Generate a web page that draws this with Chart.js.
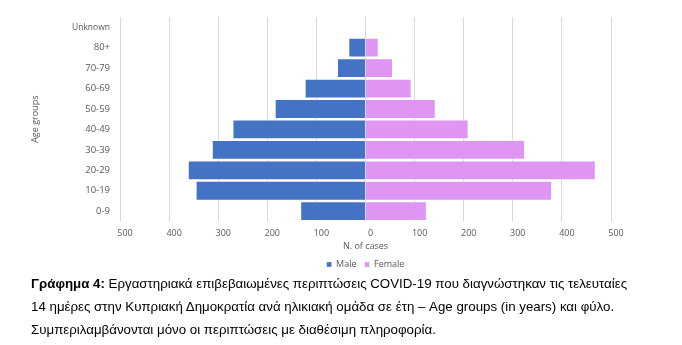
<!DOCTYPE html>
<html>
<head>
<meta charset="utf-8">
<script src="https://cdn.jsdelivr.net/npm/chart.js@4"></script>
<style>
  body { margin: 0; background: #fff; width: 682px; height: 345px; overflow: hidden; position: relative; }
  .chart-container { position: absolute; left: 0; top: 0; width: 682px; height: 279px; }
  .caption {
    position: absolute; left: 31px; top: 272px;
    font-family: "Liberation Sans", Arial, sans-serif; font-size: 13.3px;
    line-height: 23px; color: #000; white-space: nowrap;
  }
  .caption b { font-weight: bold; }
</style>
</head>
<body>
<div class="chart-container">
  <canvas id="pyramid"></canvas>
</div>
<div class="caption">
  <b>Γράφημα 4:</b> Εργαστηριακά επιβεβαιωμένες περιπτώσεις COVID-19 που διαγνώστηκαν τις τελευταίες<br>
  14 ημέρες στην Κυπριακή Δημοκρατία ανά ηλικιακή ομάδα σε έτη – Age groups (in years) και φύλο.<br>
  Συμπεριλαμβάνονται μόνο οι περιπτώσεις με διαθέσιμη πληροφορία.
</div>
<script>
const ageGroups = ['Unknown', '80+', '70-79', '60-69', '50-59', '40-49', '30-39', '20-29', '10-19', '0-9'];
const maleCases = [0, 35, 58, 124, 185, 271, 313, 362, 346, 133];
const femaleCases = [0, 27, 56, 94, 143, 210, 325, 469, 380, 125];
const xTicks = [-500, -400, -300, -200, -100, 0, 100, 200, 300, 400, 500];

const tickColor = '#595959';
const font = 'Open Sans';

// center the legend under the plot area instead of the padded canvas
const centerLegend = {
    id: 'centerLegend',
    afterLayout: chart => {
        const legend = chart.legend;
        const area = chart.chartArea;
        const shift = (area.left + area.right) / 2 - (legend.left + legend.right) / 2;
        legend.left += shift;
        legend.right += shift;
    }
};

const ctx = document.getElementById('pyramid');
new Chart(ctx, {
    type: 'bar',
    data: {
        labels: ageGroups,
        datasets: [
            {
                label: 'Male',
                data: maleCases.map(v => -v),
                backgroundColor: '#4472C4',
                borderColor: 'rgba(255,255,255,0.35)',
                borderWidth: 1
            },
            {
                label: 'Female',
                data: femaleCases,
                backgroundColor: '#DF95F2',
                borderColor: 'rgba(255,255,255,0.35)',
                borderWidth: 1
            }
        ]
    },
    plugins: [centerLegend],
    options: {
        indexAxis: 'y',
        animation: false,
        responsive: true,
        maintainAspectRatio: false,
        layout: { padding: { top: 17, right: 71, left: 0, bottom: 0 } },
        datasets: { bar: { categoryPercentage: 1, barPercentage: 0.97 } },
        scales: {
            x: {
                stacked: true,
                min: xTicks[0],
                max: xTicks[xTicks.length - 1],
                afterBuildTicks: axis => { axis.ticks = xTicks.map(v => ({ value: v })); },
                grid: { color: '#D9D9D9', drawTicks: false },
                border: { display: false },
                ticks: {
                    color: tickColor,
                    font: { family: font, size: 9 },
                    padding: 7,
                    labelOffset: 5,
                    maxRotation: 0,
                    callback: v => Math.abs(v)
                },
                title: {
                    display: true,
                    text: 'N. of cases',
                    color: tickColor,
                    font: { family: font, size: 9 },
                    padding: { top: -5, bottom: 0 }
                }
            },
            y: {
                stacked: true,
                grid: { display: false, drawTicks: false },
                border: { display: false },
                afterFit: scale => { scale.width = 120; },
                ticks: {
                    color: tickColor,
                    font: c => ({ family: font, size: c.tick && c.tick.label === 'Unknown' ? 8.5 : 9.5 }),
                    padding: 10
                },
                title: {
                    display: true,
                    text: 'Age groups',
                    color: tickColor,
                    font: { family: font, size: 9 },
                    padding: { top: 30 }
                }
            }
        },
        plugins: {
            legend: {
                position: 'bottom',
                labels: {
                    color: tickColor,
                    font: { family: font, size: 9 },
                    boxWidth: 5,
                    boxHeight: 5,
                    padding: 8
                }
            },
            tooltip: { enabled: false }
        }
    }
});
</script>
</body>
</html>
